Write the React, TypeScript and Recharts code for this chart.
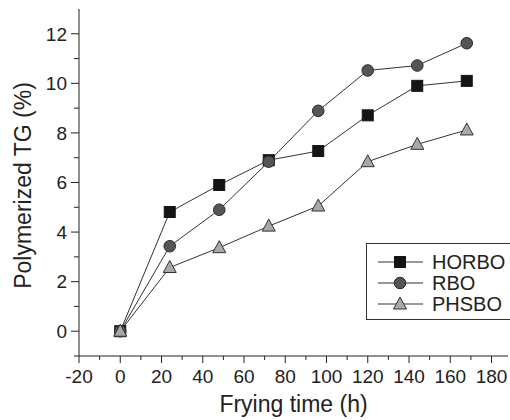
import React from 'react'
import { LineChart, Line, XAxis, YAxis } from 'recharts'

const times = [0, 24, 48, 72, 96, 120, 144, 168]
const horbo = [0, 4.81, 5.9, 6.9, 7.27, 8.71, 9.9, 10.1]
const rbo = [0, 3.43, 4.9, 6.84, 8.89, 10.52, 10.72, 11.62]
const phsbo = [0, 2.57, 3.37, 4.24, 5.05, 6.84, 7.54, 8.12]

const xTicks = [-20, -10, 0, 10, 20, 30, 40, 50, 60, 70, 80, 90, 100, 110, 120, 130, 140, 150, 160, 170, 180]
const yTicks = [-1, 0, 1, 2, 3, 4, 5, 6, 7, 8, 9, 10, 11, 12, 13]

const data = times.map((t, i) => ({ t, horbo: horbo[i], rbo: rbo[i], phsbo: phsbo[i] }))

const FONT = 'Liberation Sans, Arial, sans-serif'
const LINE = '#333'

const Square = (props: any) => {
  const { cx, cy } = props
  if (cx == null || cy == null) return null
  return <rect x={cx - 5.5} y={cy - 5.5} width={11} height={11} fill="#141414" stroke="#141414" />
}

const Circle = (props: any) => {
  const { cx, cy } = props
  if (cx == null || cy == null) return null
  return <circle cx={cx} cy={cy} r={5.8} fill="#555" stroke="#2a2a2a" strokeWidth={1} />
}

const Triangle = (props: any) => {
  const { cx, cy } = props
  if (cx == null || cy == null) return null
  return (
    <polygon
      points={`${cx},${cy - 7} ${cx - 6.5},${cy + 5} ${cx + 6.5},${cy + 5}`}
      fill="#a8a8a8"
      stroke="#333"
      strokeWidth={1}
    />
  )
}

const XTick = (props: any) => {
  const { x, y, payload } = props
  const v = payload.value
  const major = v % 20 === 0
  return (
    <g>
      <line x1={x} x2={x} y1={y} y2={y + (major ? 7 : 4)} stroke="#222" />
      {major && (
        <text x={x} y={y + 27} textAnchor="middle" fontSize={19} fontFamily={FONT} fill="#222">
          {v}
        </text>
      )}
    </g>
  )
}

const YTick = (props: any) => {
  const { x, y, payload } = props
  const v = payload.value
  if (v > 12) return null
  const major = v % 2 === 0
  return (
    <g>
      <line x1={x - (major ? 8 : 5)} x2={x} y1={y} y2={y} stroke="#222" />
      {major && (
        <text x={x - 12} y={y} dy="0.36em" textAnchor="end" fontSize={19} fontFamily={FONT} fill="#222">
          {v}
        </text>
      )}
    </g>
  )
}

const legendItems = [
  { name: 'HORBO', Shape: Square },
  { name: 'RBO', Shape: Circle },
  { name: 'PHSBO', Shape: Triangle },
]

const LegendBox = () => (
  <div
    style={{
      position: 'absolute',
      left: 366,
      top: 243,
      border: '1px solid #333',
      width: 150,
      height: 77,
      background: '#fff',
      boxSizing: 'border-box',
    }}
  >
    <svg width={150} height={76} style={{ display: 'block' }}>
      {legendItems.map((it, i) => {
        const cy = 18 + i * 21
        return (
          <g key={it.name}>
            <line x1={11} x2={56} y1={cy} y2={cy} stroke={LINE} />
            <it.Shape cx={33} cy={cy} />
            <text x={65} y={cy} dy="0.36em" fontSize={20} fontFamily={FONT} fill="#222">
              {it.name}
            </text>
          </g>
        )
      })}
    </svg>
  </div>
)

export default function App() {
  return (
    <div style={{ position: 'absolute', left: 0, top: 0, width: 510, height: 420, overflow: 'hidden', background: '#fff' }}>
      <LineChart width={510} height={420} data={data} margin={{ top: 9, right: 2, left: 0, bottom: 0 }}>
        <XAxis
          dataKey="t"
          type="number"
          domain={[-20, 188]}
          ticks={xTicks}
          interval={0}
          allowDataOverflow
          height={64}
          tickSize={0}
          tickMargin={0}
          tickLine={false}
          tick={<XTick />}
          axisLine={{ stroke: '#222' }}
          label={{ value: 'Frying time (h)', position: 'insideBottom', offset: 8, fontSize: 23, fontFamily: FONT, fill: '#222' }}
        />
        <YAxis
          type="number"
          domain={[-1, 13]}
          ticks={yTicks}
          interval={0}
          allowDataOverflow
          width={79}
          tickSize={0}
          tickMargin={0}
          tickLine={false}
          tick={<YTick />}
          axisLine={{ stroke: '#222' }}
          label={{ value: 'Polymerized TG (%)', angle: -90, position: 'insideLeft', offset: 23, dy: 3, fontSize: 23, fontFamily: FONT, fill: '#222', style: { textAnchor: 'middle' } }}
        />
        <Line dataKey="horbo" stroke={LINE} strokeWidth={1} dot={<Square />} isAnimationActive={false} />
        <Line dataKey="rbo" stroke={LINE} strokeWidth={1} dot={<Circle />} isAnimationActive={false} />
        <Line dataKey="phsbo" stroke={LINE} strokeWidth={1} dot={<Triangle />} isAnimationActive={false} />
      </LineChart>
      <LegendBox />
    </div>
  )
}
